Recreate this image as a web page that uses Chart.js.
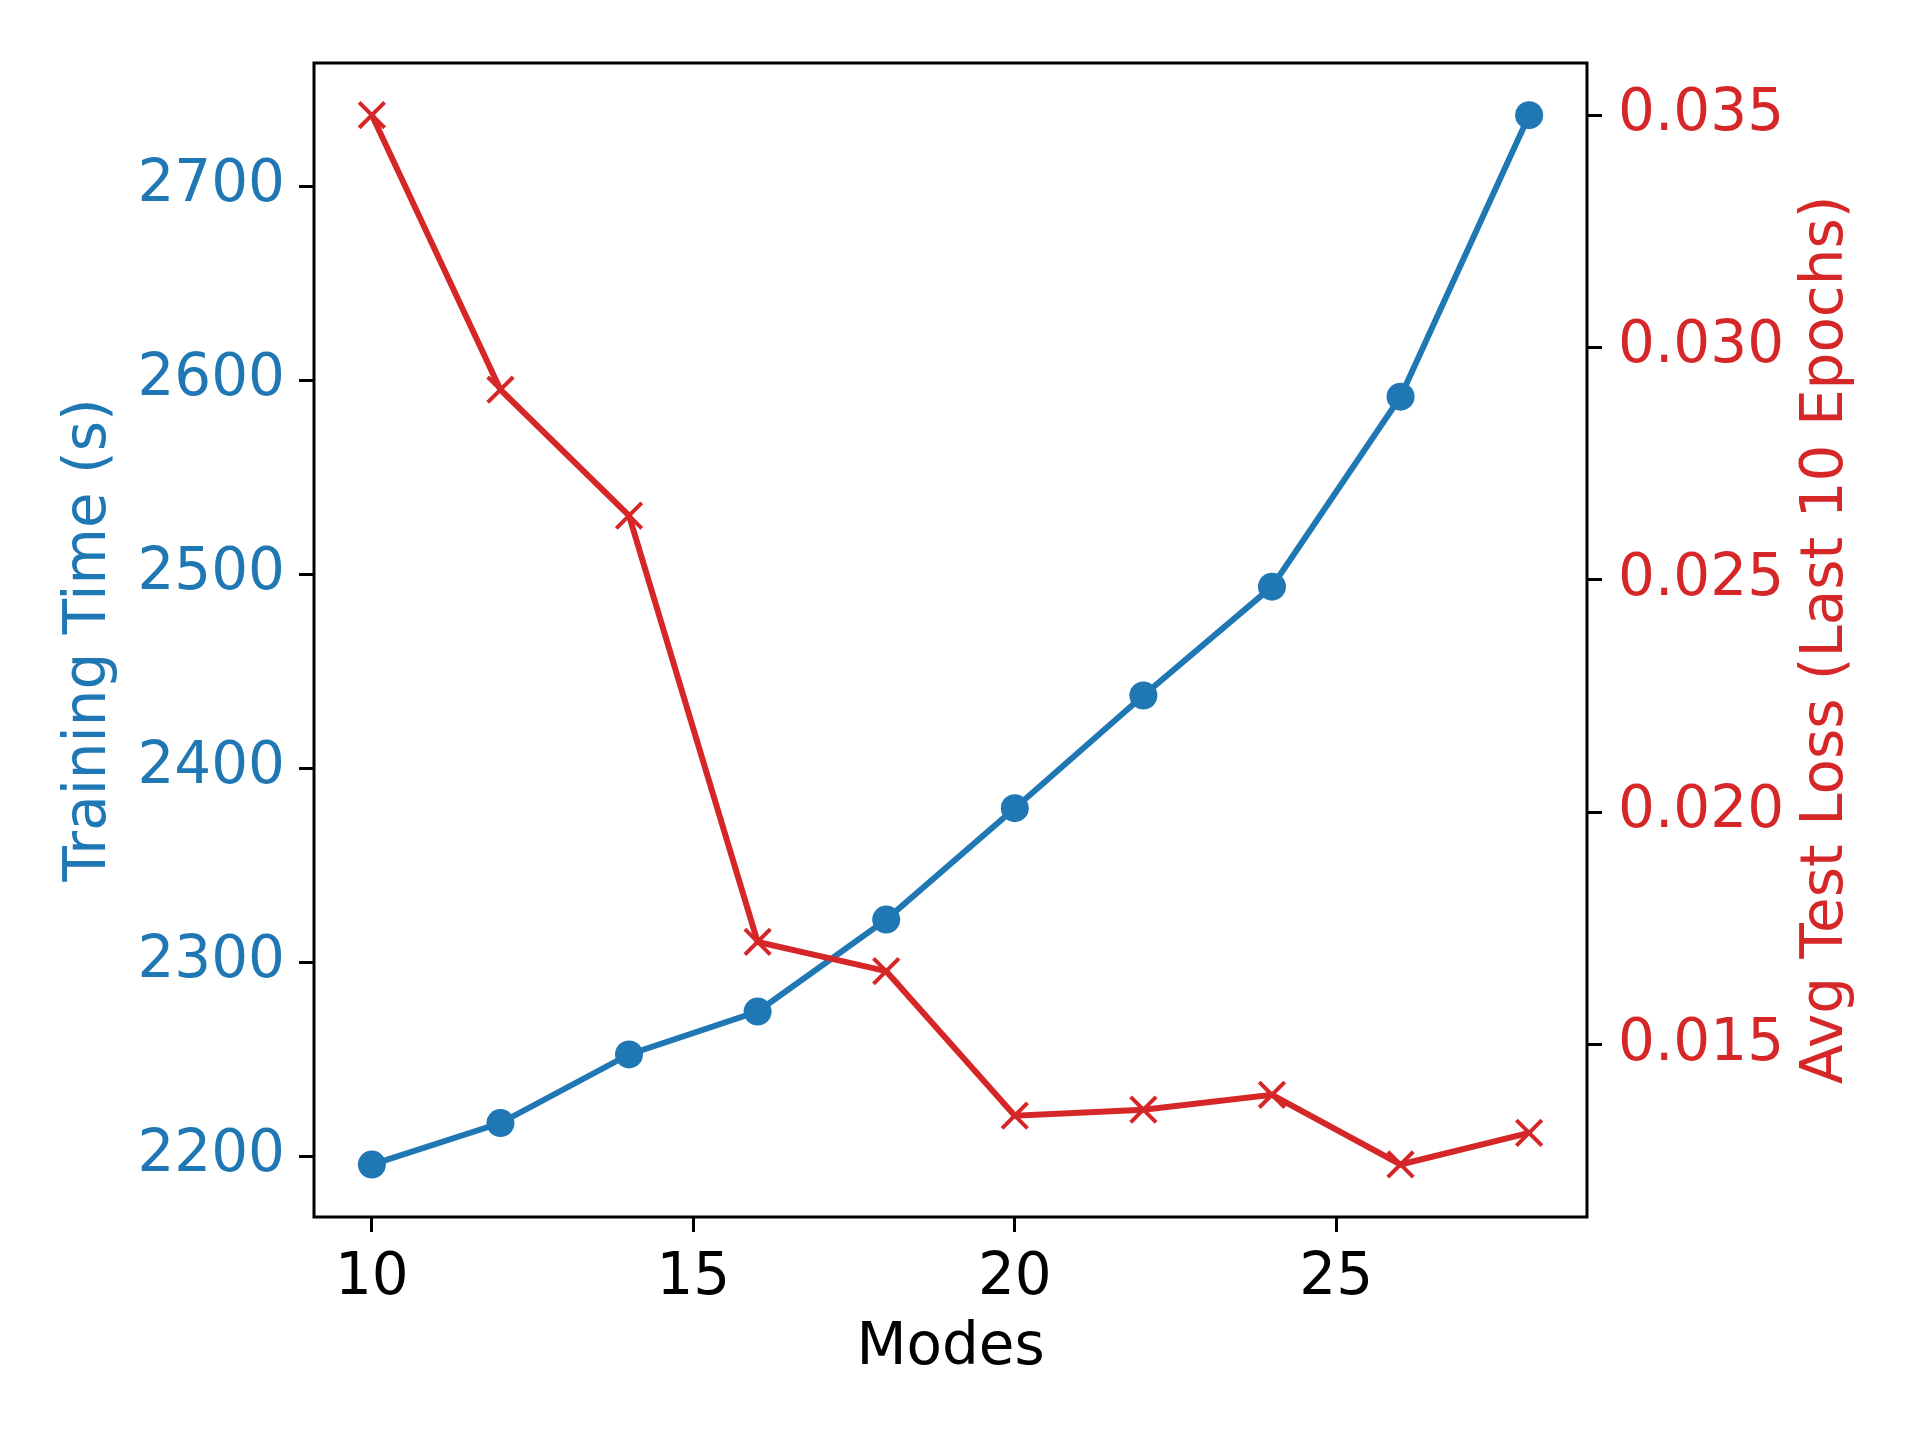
<!DOCTYPE html>
<html>
<head>
<meta charset="utf-8">
<script src="https://cdn.jsdelivr.net/npm/chart.js@4"></script>
<style>
  body { margin: 0; background: #fff; }
  canvas { display: block; }
</style>
</head>
<body>
<canvas id="chart" width="1920" height="1440"></canvas>
<script>
// Data
const modes = [10, 12, 14, 16, 18, 20, 22, 24, 26, 28];
const trainingTime = [2195.6, 2217.0, 2252.4, 2274.5, 2321.9, 2379.3, 2437.4, 2493.5, 2591.4, 2736.5];
const testLoss = [0.03500, 0.02909, 0.02638, 0.01721, 0.01658, 0.01347, 0.01360, 0.01392, 0.01242, 0.01310];

const xTicks = [10, 15, 20, 25];
const leftTicks = [2200, 2300, 2400, 2500, 2600, 2700];
const rightTicks = [0.015, 0.020, 0.025, 0.030, 0.035];

const colors = {
    blue: '#1f77b4',
    red: '#d62728',
    black: '#000000'
};

const FONT = "'DejaVu Sans', sans-serif";
const FONT_SIZE = 58;

// matplotlib style spines (top one is not drawn by Chart.js)
const framePlugin = {
    id: 'frame',
    afterDraw(chart) {
        const { ctx, chartArea: a } = chart;
        ctx.save();
        ctx.strokeStyle = colors.black;
        ctx.lineWidth = 3;
        ctx.strokeRect(a.left, a.top, a.right - a.left, a.bottom - a.top);

        // right axis label, reading bottom to top like matplotlib
        ctx.translate(1827, (a.top + a.bottom) / 2);
        ctx.rotate(-Math.PI / 2);
        ctx.font = `${FONT_SIZE}px ${FONT}`;
        ctx.fillStyle = colors.red;
        ctx.textAlign = 'center';
        ctx.textBaseline = 'middle';
        ctx.fillText('Avg Test Loss (Last 10 Epochs)', 0, 0);
        ctx.restore();
    }
};

function fixedTicks(values) {
    return scale => { scale.ticks = values.map(v => ({ value: v })); };
}

const tickGrid = {
    drawOnChartArea: false,
    drawTicks: true,
    tickLength: 15,
    tickWidth: 3,
    tickColor: colors.black
};

document.addEventListener('DOMContentLoaded', () => {
    const ctx = document.getElementById('chart').getContext('2d');
    Chart.defaults.font.family = FONT;
    Chart.defaults.font.size = FONT_SIZE;

    new Chart(ctx, {
        type: 'line',
        data: {
            datasets: [
                {
                    label: 'Avg Test Loss',
                    data: modes.map((m, i) => ({ x: m, y: testLoss[i] })),
                    yAxisID: 'y1',
                    borderColor: colors.red,
                    backgroundColor: colors.red,
                    borderWidth: 6,
                    pointStyle: 'crossRot',
                    pointRadius: 18,
                    pointBorderWidth: 4,
                    pointBorderColor: colors.red,
                    tension: 0,
                    order: 0
                },
                {
                    label: 'Training Time',
                    data: modes.map((m, i) => ({ x: m, y: trainingTime[i] })),
                    yAxisID: 'y',
                    borderColor: colors.blue,
                    backgroundColor: colors.blue,
                    borderWidth: 6,
                    pointStyle: 'circle',
                    pointRadius: 14,
                    pointBorderWidth: 0,
                    tension: 0,
                    order: 1
                }
            ]
        },
        options: {
            responsive: false,
            animation: false,
            events: [],
            layout: { padding: { top: 63, left: 0, right: 0, bottom: 0 } },
            plugins: {
                legend: { display: false },
                tooltip: { enabled: false }
            },
            scales: {
                x: {
                    type: 'linear',
                    position: 'bottom',
                    min: 9.1,
                    max: 28.9,
                    afterBuildTicks: fixedTicks(xTicks),
                    afterFit: s => { s.height = 223; },
                    grid: tickGrid,
                    border: { display: false },
                    ticks: { color: colors.black, padding: 12, maxRotation: 0 },
                    title: {
                        display: true,
                        text: 'Modes',
                        color: colors.black,
                        padding: { top: 0, bottom: 56 }
                    }
                },
                y: {
                    type: 'linear',
                    position: 'left',
                    min: 2168.6,
                    max: 2763.4,
                    afterBuildTicks: fixedTicks(leftTicks),
                    afterFit: s => { s.width = 314; },
                    grid: tickGrid,
                    border: { display: false },
                    ticks: { color: colors.blue, padding: 14, callback: v => String(v) },
                    title: {
                        display: true,
                        text: 'Training Time (s)',
                        color: colors.blue,
                        padding: { top: 55, bottom: 0 }
                    }
                },
                y1: {
                    type: 'linear',
                    position: 'right',
                    min: 0.01129,
                    max: 0.03612,
                    afterBuildTicks: fixedTicks(rightTicks),
                    afterFit: s => { s.width = 333; },
                    grid: tickGrid,
                    border: { display: false },
                    ticks: {
                        color: colors.red,
                        padding: 16,
                        callback: v => v.toFixed(3)
                    }
                }
            }
        },
        plugins: [framePlugin]
    });
});
</script>
</body>
</html>
